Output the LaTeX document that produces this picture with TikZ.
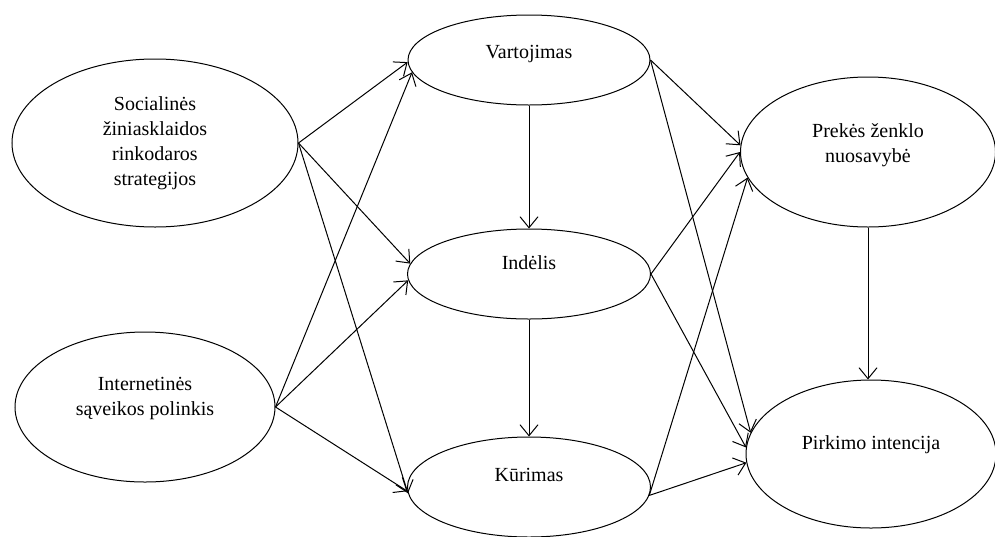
\documentclass[tikz,border=0pt]{standalone}
\usepackage{fontspec}
\setmainfont{Liberation Serif}
\usetikzlibrary{shapes.geometric,arrows.meta}

\tikzset{every picture/.style={line width=1pt}}
\tikzset{
  oval/.style={draw, ellipse, inner sep=0pt, align=center, font=\fontsize{20}{25}\selectfont},
  link/.style={-{Straight Barb[length=11pt,width=18pt]}},
}

\begin{document}
\begin{tikzpicture}[x=1pt,y=1pt,yscale=-1,xscale=1]
\useasboundingbox (0,0) rectangle (995,536);

%Shape: Ellipse [id:smm]
\node[oval, minimum width=286pt, minimum height=168pt] (smm) at (155,143) {Socialinės\\žiniasklaidos\\rinkodaros\\strategijos};
%Shape: Ellipse [id:isp]
\node[oval, minimum width=260pt, minimum height=150pt, text depth=22pt] (isp) at (145,407) {Internetinės\\sąveikos polinkis};
%Shape: Ellipse [id:vart]
\node[oval, minimum width=242pt, minimum height=90pt, text depth=16pt] (vart) at (529,60) {Vartojimas};
%Shape: Ellipse [id:ind]
\node[oval, minimum width=243pt, minimum height=90pt, text depth=22pt] (ind) at (529,274) {Indėlis};
%Shape: Ellipse [id:kur]
\node[oval, minimum width=243pt, minimum height=100pt, text depth=24pt] (kur) at (529,487) {Kūrimas};
%Shape: Ellipse [id:pzn]
\node[oval, minimum width=255pt, minimum height=150pt, text depth=18pt] (pzn) at (868,152) {Prekės ženklo\\nuosavybė};
%Shape: Ellipse [id:pirk]
\node[oval, minimum width=250pt, minimum height=148pt, text depth=22pt] (pirk) at (871,454) {Pirkimo intencija};

%Straight Lines [id:left]
\draw[link] (smm.east) -- (vart.181);
\draw[link] (smm.east) -- (ind.175);
\draw[link] (smm.east) -- (kur.183);
\draw[link] (isp.east) -- (vart.186);
\draw[link] (isp.east) -- (ind.183);
\draw[link] (isp.east) -- (kur.182);
%Straight Lines [id:middle]
\draw[link] (vart.south) -- (ind.north);
\draw[link] (ind.south) -- (kur.north);
%Straight Lines [id:right]
\draw[link] (vart.east) -- (pzn.177);
\draw[link] (vart.east) -- (pirk.170);
\draw[link] (ind.east) -- (pzn.180);
\draw[link] (ind.east) -- (pirk.177);
\draw[link] (kur.356) -- (pzn.192);
\draw[link] (kur.356) -- (pirk.184);
\draw[link] (pzn.south) -- (pzn.south |- pirk.north);

\end{tikzpicture}
\end{document}
